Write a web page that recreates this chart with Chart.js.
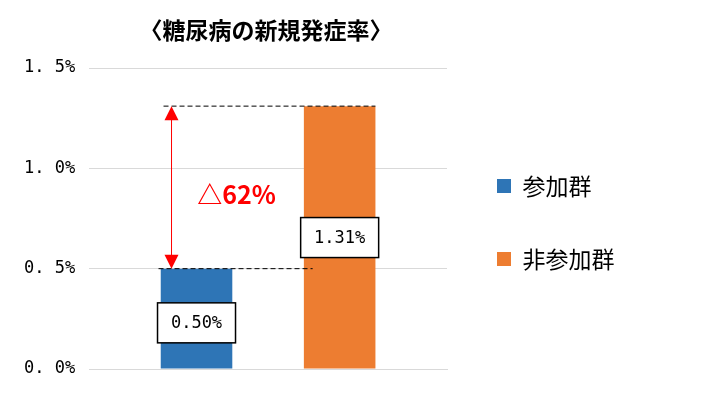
<!DOCTYPE html>
<html><head><meta charset="utf-8">
<script src="https://cdn.jsdelivr.net/npm/chart.js@4"></script>
<style>html,body{margin:0;padding:0;background:#fff}#w{width:726px;height:417px}</style>
</head><body><div id="w"><canvas id="c"></canvas></div>
<script>
const categories = [''];
const seriesNames = ['参加群', '非参加群'];
const participantValues = [0.50];
const nonParticipantValues = [1.31];
const valueLabels = ['0.50%', '1.31%'];
const reductionLabel = '△62%';
const titleText = '〈糖尿病の新規発症率〉';
const yTicks = [0, 0.5, 1.0, 1.5];
const FONT = '"Noto Sans CJK JP", sans-serif';
const MONO = '"DejaVu Sans Mono", monospace';

const widenLegend = {
  id: 'widenLegend',
  afterInit(chart) {
    const lg = chart.legend, orig = lg.fit;
    lg.fit = function () { orig.call(this); this.width += 85; this.minSize && (this.minSize.width = this.width); };
  }
};

const overlay = {
  id: 'overlay',
  afterDatasetsDraw(chart) {
    const ctx = chart.ctx, y = chart.scales.y, ca = chart.chartArea;
    const m0 = chart.getDatasetMeta(0).data[0], m1 = chart.getDatasetMeta(1).data[0];
    const yTop = y.getPixelForValue(nonParticipantValues[0]);
    const yLow = y.getPixelForValue(participantValues[0]);
    ctx.save();
    ctx.fillStyle = '#000'; ctx.font = 'bold 23px ' + FONT; ctx.textAlign = 'center'; ctx.textBaseline = 'middle';
    ctx.fillText(titleText, (ca.left + ca.right) / 2 - 2, 30);
    ctx.strokeStyle = '#000'; ctx.lineWidth = 1; ctx.setLineDash([5, 3]);
    ctx.beginPath(); ctx.moveTo(m0.x - 33, yTop); ctx.lineTo(m1.x + m1.width / 2, yTop); ctx.stroke();
    ctx.beginPath(); ctx.moveTo(m0.x - 38, yLow); ctx.lineTo(m1.x - 27, yLow); ctx.stroke();
    ctx.setLineDash([]);
    const ax = m0.x - 25;
    ctx.strokeStyle = '#f00'; ctx.fillStyle = '#f00'; ctx.lineWidth = 1;
    ctx.beginPath(); ctx.moveTo(ax, yTop + 10); ctx.lineTo(ax, yLow - 10); ctx.stroke();
    ctx.beginPath(); ctx.moveTo(ax, yTop); ctx.lineTo(ax - 7, yTop + 14); ctx.lineTo(ax + 7, yTop + 14); ctx.fill();
    ctx.beginPath(); ctx.moveTo(ax, yLow); ctx.lineTo(ax - 7, yLow - 14); ctx.lineTo(ax + 7, yLow - 14); ctx.fill();
    ctx.font = 'bold 25px ' + FONT;
    ctx.fillText(reductionLabel, m0.x + 40, y.getPixelForValue(0.87));
    ctx.font = '17px ' + MONO;
    [[m0, participantValues[0] / 2 - 0.02, valueLabels[0]], [m1, nonParticipantValues[0] / 2 + 0.0, valueLabels[1]]].forEach(([m, v, t]) => {
      const cy = y.getPixelForValue(v), w = 78, h = 40;
      ctx.fillStyle = '#fff'; ctx.fillRect(m.x - w / 2, cy - h / 2, w, h);
      ctx.strokeStyle = '#000'; ctx.lineWidth = 1.5; ctx.strokeRect(m.x - w / 2, cy - h / 2, w, h);
      ctx.fillStyle = '#000'; ctx.fillText(t, m.x, cy + 1);
    });
    ctx.restore();
  }
};

new Chart(document.getElementById('c'), {
  type: 'bar',
  data: {
    labels: categories,
    datasets: [
      { label: seriesNames[0], data: participantValues, backgroundColor: '#2e75b6' },
      { label: seriesNames[1], data: nonParticipantValues, backgroundColor: '#ed7d31' }
    ]
  },
  options: {
    responsive: true, maintainAspectRatio: false, animation: false,
    layout: { padding: { top: 68, right: 20, bottom: 40, left: 10 } },
    datasets: { bar: { barPercentage: 0.5, categoryPercentage: 0.8 } },
    plugins: {
      title: { display: false },
      legend: { position: 'right', labels: { color: '#000', font: { family: FONT, size: 23 }, boxWidth: 14, boxHeight: 14, padding: 50 } },
      tooltip: { enabled: false }
    },
    scales: {
      x: { grid: { display: false }, border: { color: '#d9d9d9' }, ticks: { display: false } },
      y: {
        min: 0, max: 1.5, afterBuildTicks: s => { s.ticks = yTicks.map(v => ({ value: v })); },
        grid: { color: '#d9d9d9', drawTicks: false }, border: { display: false },
        ticks: { color: '#000', padding: 14, font: { family: MONO, size: 17 }, callback: v => v.toFixed(1).replace('.', '. ') + '%' }
      }
    }
  },
  plugins: [widenLegend, overlay]
});
</script></body></html>
